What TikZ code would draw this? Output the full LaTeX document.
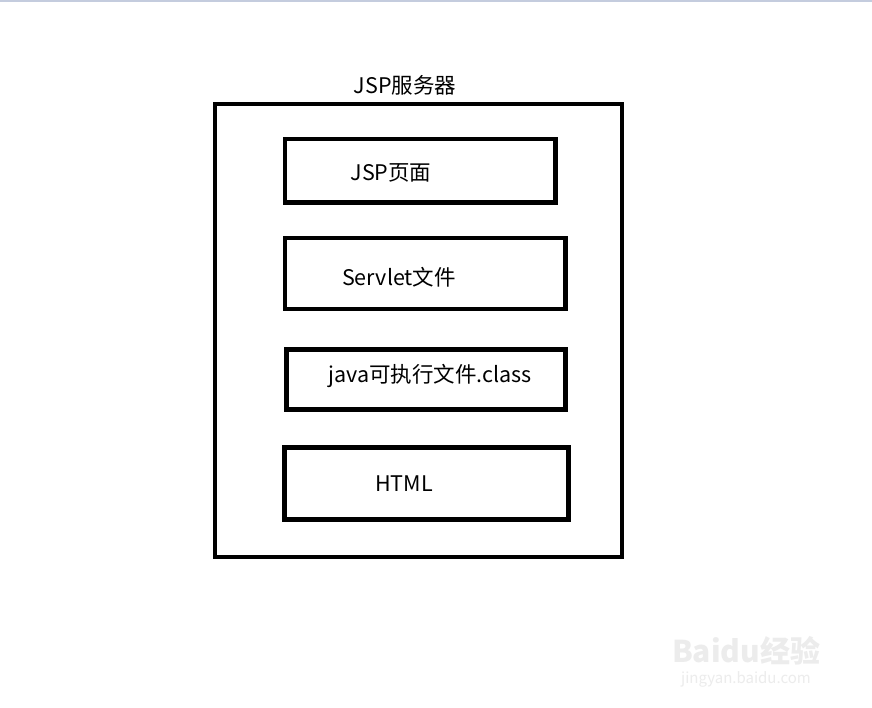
\documentclass[tikz,border=0pt]{standalone}
\usepackage{fontspec}
\setmainfont{Noto Sans CJK SC}
\usepackage{tikz}
\usetikzlibrary{positioning,calc}
\definecolor{topbar}{RGB}{196,204,222}
\definecolor{wmgray}{RGB}{236,236,236}

\begin{document}
\begin{tikzpicture}[x=1pt,y=-1pt,
  frame/.style={draw=black,line width=4.5pt},
  lbl/.style={inner sep=0pt,font=\fontsize{21.5}{22}\selectfont},
  wm/.style={inner sep=0pt,text=wmgray}]
  \useasboundingbox[fill=white] (0,0) rectangle (872,708);
  \draw[topbar,line width=2pt] (0,1) -- (872,1);
  % server frame
  \draw[frame] (215,104) rectangle (622,557);
  \node[lbl] (server) at (405,85) {JSP服务器};
  % inner boxes
  \foreach \xa/\ya/\xb/\yb in {285/139/555.5/202.5,285/238/565.5/309,286.5/349.5/565.5/409.5,284.5/447.5/568.5/519.5}
    \draw[frame] (\xa,\ya) rectangle (\xb,\yb);
  \node[lbl] (jsp) at (391,173) {JSP页面};
  \node[lbl] (servlet) at (399,277) {Servlet文件};
  \node[lbl] (class) at (430,376) {java可执行文件.class};
  \node[lbl] (html) at (404,484) {HTML};
  % watermark
  \node[wm,font=\fontsize{30}{30}\selectfont\bfseries] (wmlogo) at (746,651) {Baidu经验};
  \node[wm,font=\fontsize{15}{16}\selectfont,below=6pt of wmlogo] (wmurl) {jingyan.baidu.com};
\end{tikzpicture}
\end{document}
